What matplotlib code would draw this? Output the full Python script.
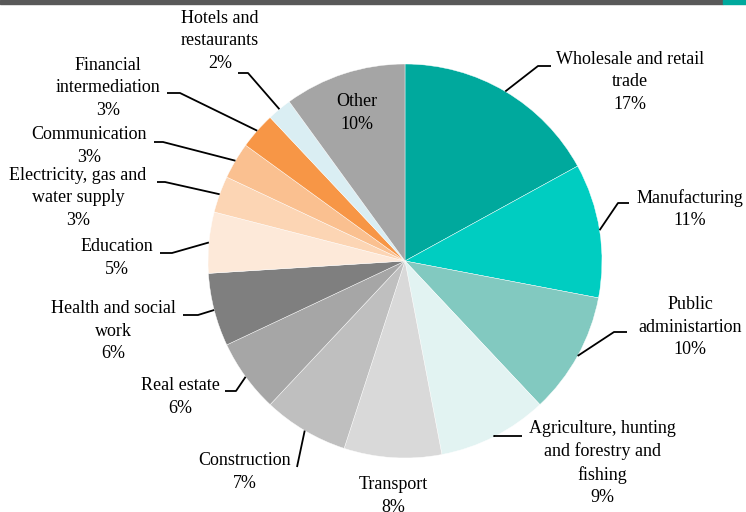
import numpy as np
import matplotlib.pyplot as plt
from matplotlib.patches import Rectangle

plt.rcParams['font.family'] = ['Liberation Serif', 'DejaVu Serif']

sectors = [
    "Wholesale and retail\ntrade", "Manufacturing", "Public\nadministartion",
    "Agriculture, hunting\nand forestry and\nfishing", "Transport", "Construction",
    "Real estate", "Health and social\nwork", "Education",
    "Electricity, gas and\nwater supply", "Communication", "Financial\nintermediation",
    "Hotels and\nrestaurants", "Other",
]
shares = [17, 11, 10, 9, 8, 7, 6, 6, 5, 3, 3, 3, 2, 10]
colors = [
    "#00A99D", "#00CDC1", "#82C9C0", "#E2F3F2", "#D9D9D9", "#BFBFBF", "#A6A6A6",
    "#7F7F7F", "#FDE9D9", "#FCD5B4", "#FAC090", "#F79646", "#DAEEF3", "#A5A5A5",
]

# layout in pixels (figure is 746x512, pie centre / radius in px)
W, H = 746, 512
CX, CY, R = 405, 261, 197
# text block centre, then leader elbow and leader end (None = no leader)
label_pos = [
    (630, 82), (690, 209), (690, 327), (602, 463), (393, 496), (245, 472),
    (180, 397), (113, 331), (117, 258), (78, 198), (89, 146), (108, 88),
    (220, 41), None,
]
leaders = [
    ((538, 66), (551, 66)), ((618, 203), (629, 203)), ((614, 332), (627, 332)),
    ((494, 436), (522, 436)), None, ((297, 467), (297, 467)),
    ((236, 391), (225, 391)), ((198, 315), (183, 315)), ((172, 253), (160, 253)),
    ((165, 182), (157, 182)), ((163, 142), (154, 142)), ((180, 93), (167, 93)),
    ((248, 73), (238, 73)), None,
]


def px(p):
    return ((p[0] - CX) / R, (CY - p[1]) / R)


fig = plt.figure(figsize=(W / 100, H / 100), dpi=100)
ax = fig.add_axes([0, 0, 1, 1])

wedges, _ = ax.pie(shares, colors=colors, startangle=90, counterclock=False,
                   radius=1, wedgeprops=dict(linewidth=0.3, edgecolor='white'))
ax.set_aspect('auto')
ax.set_xlim(-CX / R, (W - CX) / R)
ax.set_ylim(-(H - CY) / R, CY / R)
ax.axis('off')

fs = 13
ls = 1.4
for w, name, v, lp, ld in zip(wedges, sectors, shares, label_pos, leaders):
    mid = np.deg2rad((w.theta1 + w.theta2) / 2)
    txt = f"{name}\n{v}%"
    if lp is None:
        # label inside the wedge
        ax.text(0.79 * np.cos(mid), 0.79 * np.sin(mid), txt, ha='center', va='center',
                fontsize=fs, linespacing=ls)
        continue
    tx, ty = px(lp)
    ax.text(tx, ty, txt, ha='center', va='center', fontsize=fs, linespacing=ls)
    if ld is not None:
        ex, ey = px(ld[0])
        hx, hy = px(ld[1])
        ax.plot([np.cos(mid), ex, hx], [np.sin(mid), ey, hy], color='black', lw=1.3,
                solid_capstyle='butt')

# top banner
fig.patches.append(Rectangle((0, 1 - 4 / H), 723 / W, 4 / H, transform=fig.transFigure,
                             color='#595959', zorder=5))
fig.patches.append(Rectangle((723 / W, 1 - 4 / H), 1 - 723 / W, 4 / H,
                             transform=fig.transFigure, color='#00A99D', zorder=5))

fig.savefig('out.png', dpi=100)
